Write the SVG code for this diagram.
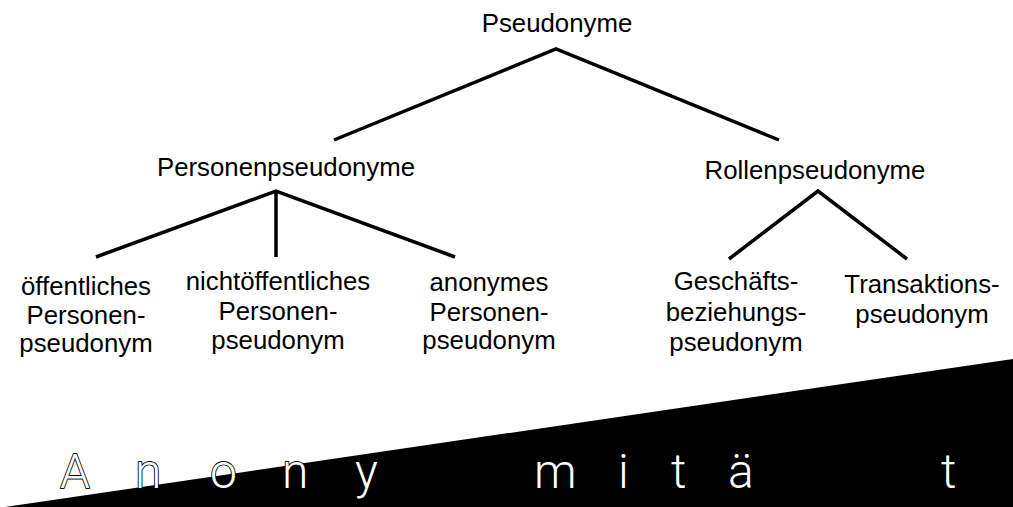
<svg xmlns="http://www.w3.org/2000/svg" width="1013" height="507" viewBox="0 0 1013 507">
  <style>
    .lbl { font-family: "Liberation Sans", Arial, sans-serif; font-size: 25.8px; fill: #000; text-anchor: middle; }
    .edge { stroke: #000; stroke-width: 3.5; fill: none; stroke-linecap: butt; }
    .big { font-family: Roboto, "Liberation Sans", Arial, sans-serif; font-weight: 300; font-size: 48px; fill: #fff; stroke: #000; stroke-width: 1.8; paint-order: stroke; stroke-linejoin: round; }
  </style>
  <rect width="1013" height="507" fill="#fff"/>

  <!-- rising wedge -->
  <polygon points="5,507 1013,359 1013,507" fill="#000"/>

  <!-- spaced-out word over the wedge -->
  <g id="anonymitaet">
    <text class="big" x="60" y="488">A</text>
    <text class="big" x="135" y="488">n</text>
    <text class="big" x="210" y="488">o</text>
    <text class="big" x="282" y="488">n</text>
    <text class="big" x="355" y="488">y</text>
    <text class="big" x="534" y="488">m</text>
    <text class="big" x="618" y="488">i</text>
    <text class="big" x="671" y="488">t</text>
    <text class="big" x="728" y="488">ä</text>
    <text class="big" x="941" y="488">t</text>
  </g>

  <g id="connectors">
    <polyline class="edge" points="334,140 556,49 779,140"/>
    <polyline class="edge" points="96,257 276,191 455,257"/>
    <line class="edge" x1="276" y1="191" x2="276" y2="257"/>
    <polyline class="edge" points="729,259 818,191 907,259"/>
  </g>

  <g id="pseudonyme"><text class="lbl" x="557" y="32">Pseudonyme</text></g>
  <g id="personenpseudonyme"><text class="lbl" x="286" y="176">Personenpseudonyme</text></g>
  <g id="rollenpseudonyme"><text class="lbl" x="815" y="179">Rollenpseudonyme</text></g>

  <g id="oeffentlich">
    <text class="lbl" x="86" y="295">öffentliches</text>
    <text class="lbl" x="86" y="324">Personen-</text>
    <text class="lbl" x="86" y="352">pseudonym</text>
  </g>
  <g id="nichtoeffentlich">
    <text class="lbl" x="278" y="290">nichtöffentliches</text>
    <text class="lbl" x="278" y="320">Personen-</text>
    <text class="lbl" x="278" y="349">pseudonym</text>
  </g>
  <g id="anonym">
    <text class="lbl" x="489" y="291">anonymes</text>
    <text class="lbl" x="489" y="321">Personen-</text>
    <text class="lbl" x="489" y="349">pseudonym</text>
  </g>
  <g id="geschaeftsbeziehung">
    <text class="lbl" x="736" y="290">Geschäfts-</text>
    <text class="lbl" x="736" y="321">beziehungs-</text>
    <text class="lbl" x="736" y="351">pseudonym</text>
  </g>
  <g id="transaktion">
    <text class="lbl" x="922" y="293">Transaktions-</text>
    <text class="lbl" x="922" y="323">pseudonym</text>
  </g>
</svg>
